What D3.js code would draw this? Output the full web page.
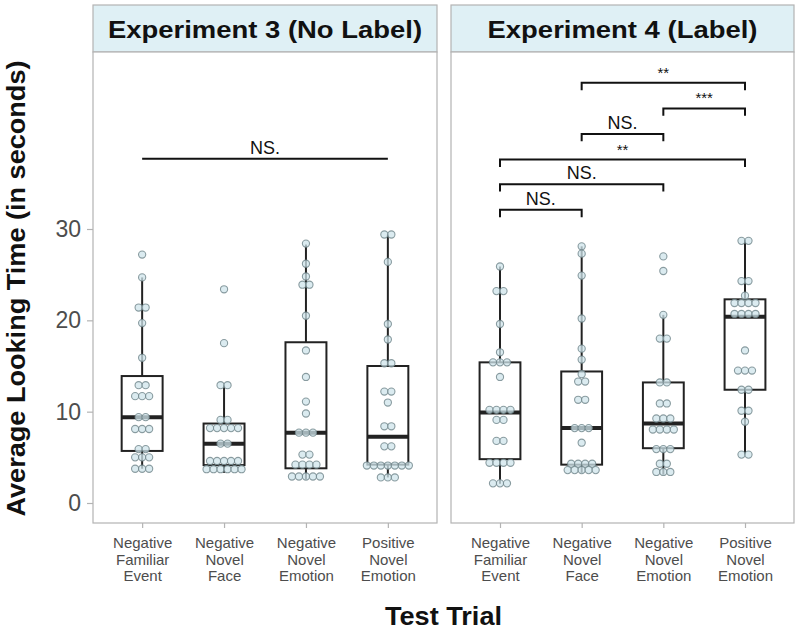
<!DOCTYPE html>
<html><head><meta charset="utf-8">
<script src="https://cdn.jsdelivr.net/npm/d3@7/dist/d3.min.js"></script>
<style>body{margin:0;background:#fff;}svg{display:block;font-family:"Liberation Sans",Arial,sans-serif;}</style>
</head><body><svg id="c" width="800" height="631"></svg>
<script>
// ---------- data ----------
const experiments = ["Experiment 3 (No Label)", "Experiment 4 (Label)"];
const trialLabels = [["Negative","Familiar","Event"],["Negative","Novel","Face"],["Negative","Novel","Emotion"],["Positive","Novel","Emotion"]];
const yTicks = [0, 10, 20, 30];

// individual looking times (seconds), one array per trial
const exp3_negFamiliarEvent = [27.2,24.7,21.4,21.4,19.7,15.9,12.9,12.9,11.7,11.7,11.7,9.4,9.4,8.1,8.1,8.1,5.9,5.9,5.0,5.0,5.0,3.75,3.75,3.75];
const exp3_negNovelFace     = [23.4,17.5,12.9,12.9,9.1,9.1,8.2,8.2,8.2,8.2,8.2,6.5,6.5,4.6,4.6,4.6,4.6,4.6,3.7,3.7,3.7,3.7,3.7,3.7];
const exp3_negNovelEmotion  = [28.4,26.2,24.8,23.9,23.9,20.5,16.7,13.8,11.1,9.8,7.7,7.7,7.7,5.3,5.3,4.2,4.2,4.2,4.2,2.9,2.9,2.9,2.9,2.9];
const exp3_posNovelEmotion  = [29.4,29.4,26.4,19.6,17.9,15.3,15.3,12.2,12.2,11.0,8.4,8.4,6.2,6.2,4.1,4.1,4.1,4.1,4.1,4.1,4.1,2.8,2.8,2.8];
const exp4_negFamiliarEvent = [25.9,23.2,23.2,19.6,16.5,15.4,15.4,15.4,13.8,10.2,10.2,10.2,10.2,9.1,9.1,6.8,6.8,4.4,4.4,4.4,4.4,2.15,2.15,2.15];
const exp4_negNovelFace     = [28.1,27.3,24.9,20.2,16.9,15.7,14.1,13.3,13.3,11.3,11.3,8.2,8.2,8.2,6.6,4.3,4.3,4.3,4.3,3.6,3.6,3.6,3.6,3.6];
const exp4_negNovelEmotion  = [27.0,25.4,20.6,18.0,18.0,13.2,13.2,10.9,10.9,9.25,9.25,9.25,8.05,8.05,8.05,8.05,5.9,5.9,5.9,4.3,4.3,3.4,3.4,3.4];
const exp4_posNovelEmotion  = [28.7,28.7,24.3,24.3,22.7,21.9,21.9,21.9,21.9,20.7,20.7,20.7,20.7,16.7,14.5,14.5,14.5,12.4,12.4,10.1,10.1,8.9,5.3,5.3];

// box statistics: [lower whisker, Q1, median, Q3, upper whisker]
const exp3_boxes = [[3.75,5.7,9.4,13.9,24.7],[3.3,4.15,6.5,8.7,12.9],[2.6,3.8,7.7,17.6,28.3],[2.8,4.2,7.25,15.0,29.4]];
const exp4_boxes = [[2.1,4.8,9.9,15.4,25.9],[3.3,4.2,8.2,14.4,28.1],[3.1,6.0,8.7,13.2,20.6],[5.3,12.4,20.4,22.3,28.8]];

// significance brackets: [from trial, to trial, height (s), label]
const exp3_sig = [[0,3,37.7,"NS."]];
const exp4_sig = [[1,3,46.0,"**"],[2,3,43.2,"***"],[1,2,40.4,"NS."],[0,3,37.6,"**"],[0,2,34.9,"NS."],[0,1,32.1,"NS."]];

const panelsData = [
  {title: experiments[0], points: [exp3_negFamiliarEvent,exp3_negNovelFace,exp3_negNovelEmotion,exp3_posNovelEmotion], boxes: exp3_boxes, sig: exp3_sig, brackets:false},
  {title: experiments[1], points: [exp4_negFamiliarEvent,exp4_negNovelFace,exp4_negNovelEmotion,exp4_posNovelEmotion], boxes: exp4_boxes, sig: exp4_sig, brackets:true}
];

// ---------- layout ----------
const svg = d3.select("#c");
const panelX = [[93,437],[451,794]];
const stripTop = 5, stripBottom = 52, panelBottom = 523;
const y = d3.scaleLinear().domain([0,30]).range([503,229]);
const gridGray = "#b3b3b3", textGray = "#4d4d4d";
const dotR = 3.6, dotStep = 7;

panelsData.forEach((p, pi) => {
  const [x0, x1] = panelX[pi];
  const x = d3.scalePoint().domain([0,1,2,3]).range([x0, x1]).padding(0.6);
  const bw = x.step() * 0.5;
  const g = svg.append("g");

  // strip
  g.append("rect").attr("x", x0).attr("y", stripTop).attr("width", x1-x0).attr("height", stripBottom-stripTop)
    .attr("fill", "#dff0f5").attr("stroke", gridGray).attr("stroke-width", 1.2);
  const st = g.append("text").attr("x", (x0+x1)/2).attr("y", 37.5).attr("text-anchor","middle")
    .attr("font-size", 24.5).attr("font-weight","bold").attr("fill","#111").text(p.title);
  st.attr("textLength", st.node().getComputedTextLength() * 1.12).attr("lengthAdjust","spacingAndGlyphs");
  // panel
  g.append("rect").attr("x", x0).attr("y", stripBottom).attr("width", x1-x0).attr("height", panelBottom-stripBottom)
    .attr("fill", "#fff").attr("stroke", gridGray).attr("stroke-width", 1.2);

  // x axis
  const xa = g.append("g").attr("transform", `translate(0,${panelBottom})`)
    .call(d3.axisBottom(x).tickSize(5).tickFormat(() => ""));
  xa.select(".domain").remove();
  xa.selectAll(".tick line").attr("stroke", gridGray).attr("stroke-width", 1.2);
  xa.selectAll(".tick").each(function(d) {
    const t = d3.select(this).append("text").attr("fill", textGray).attr("font-size", 15)
      .attr("text-anchor","middle").attr("y", 25);
    trialLabels[d].forEach((line, li) => t.append("tspan").attr("x", 0).attr("dy", li === 0 ? 0 : 16.5).text(line));
  });

  // boxes
  p.boxes.forEach((b, i) => {
    const cx = x(i);
    const [lo, q1, med, q3, hi] = b;
    g.append("line").attr("x1", cx).attr("x2", cx).attr("y1", y(q3)).attr("y2", y(hi)).attr("stroke","#222").attr("stroke-width",2);
    g.append("line").attr("x1", cx).attr("x2", cx).attr("y1", y(q1)).attr("y2", y(lo)).attr("stroke","#222").attr("stroke-width",2);
    g.append("rect").attr("x", cx-bw/2).attr("y", y(q3)).attr("width", bw).attr("height", y(q1)-y(q3))
      .attr("fill","none").attr("stroke","#222").attr("stroke-width",2);
    g.append("line").attr("x1", cx-bw/2).attr("x2", cx+bw/2).attr("y1", y(med)).attr("y2", y(med)).attr("stroke","#222").attr("stroke-width",4);
  });

  // dot stacks (centred, equal values stacked sideways)
  p.points.forEach((vals, i) => {
    const rows = d3.groups(vals, v => v);
    rows.forEach(([v, arr]) => {
      arr.forEach((_, k) => {
        g.append("circle").attr("cx", x(i) + (k - (arr.length-1)/2) * dotStep).attr("cy", y(v)).attr("r", dotR)
          .attr("fill", "#cfe4eb").attr("fill-opacity", 0.75)
          .attr("stroke", "#6f8489").attr("stroke-opacity", 0.8).attr("stroke-width", 1.1);
      });
    });
  });

  // significance
  const tick = 0.8;
  p.sig.forEach(([a, b, h, lab]) => {
    const path = p.brackets
      ? `M${x(a)},${y(h-tick)}L${x(a)},${y(h)}L${x(b)},${y(h)}L${x(b)},${y(h-tick)}`
      : `M${x(a)},${y(h)}L${x(b)},${y(h)}`;
    g.append("path").attr("d", path).attr("fill","none").attr("stroke","#111").attr("stroke-width",2);
    g.append("text").attr("x", (x(a)+x(b))/2).attr("y", y(h) - 5).attr("text-anchor","middle")
      .attr("font-size", lab === "NS." ? 18 : 15).attr("fill","#111").text(lab);
  });

  // y axis (left panel only)
  if (pi === 0) {
    const ya = g.append("g").attr("transform", `translate(${x0},0)`)
      .call(d3.axisLeft(y).tickValues(yTicks).tickSize(6).tickPadding(6));
    ya.select(".domain").remove();
    ya.selectAll(".tick line").attr("stroke", gridGray).attr("stroke-width", 1.2);
    ya.selectAll(".tick text").attr("fill", textGray).attr("font-size", 23).attr("font-family","Liberation Sans, Arial, sans-serif");
  }
});

// axis titles
const tt = svg.append("text").attr("x", (93+794)/2).attr("y", 625).attr("text-anchor","middle")
  .attr("font-size", 26).attr("font-weight","bold").attr("fill","#111").text("Test Trial");
tt.attr("textLength", 117).attr("lengthAdjust","spacingAndGlyphs");
const yl = svg.append("text").attr("transform", `translate(25,${(stripBottom+panelBottom)/2 + 1}) rotate(-90)`).attr("text-anchor","middle")
  .attr("font-size", 26).attr("font-weight","bold").attr("fill","#111").text("Average Looking Time (in seconds)");
yl.attr("textLength", 456).attr("lengthAdjust","spacingAndGlyphs");
</script></body></html>
